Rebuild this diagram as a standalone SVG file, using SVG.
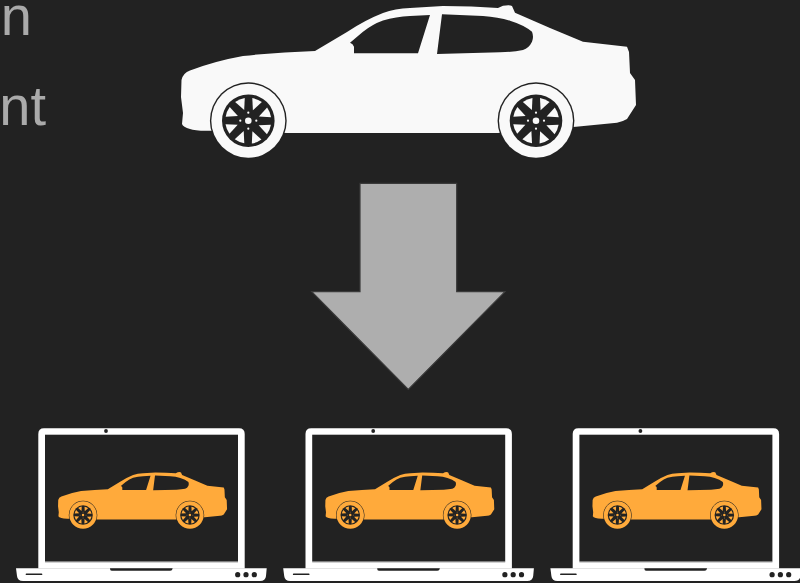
<svg xmlns="http://www.w3.org/2000/svg" xmlns:xlink="http://www.w3.org/1999/xlink" width="800" height="583" viewBox="0 0 800 583">
<style>
.lbl{font-family:"Liberation Sans",Arial,sans-serif;font-size:56px;fill:#aaaaaa}
.dk{fill:#222222}
.lid{fill:#ffffff}
</style>
<defs>
<path id="w" d="M4.6 -10.4 L4 -22.6 A23 23 0 0 1 13.6 -18.6 Z"/>
<g id="wheel">
<circle r="38.4" fill="#222222"/>
<circle r="37" fill="currentColor"/>
<circle r="26.3" fill="#222222"/>
<g fill="currentColor">
<use xlink:href="#w" href="#w"/>
<use xlink:href="#w" href="#w" transform="rotate(45)"/>
<use xlink:href="#w" href="#w" transform="rotate(90)"/>
<use xlink:href="#w" href="#w" transform="rotate(135)"/>
<use xlink:href="#w" href="#w" transform="rotate(180)"/>
<use xlink:href="#w" href="#w" transform="rotate(225)"/>
<use xlink:href="#w" href="#w" transform="rotate(270)"/>
<use xlink:href="#w" href="#w" transform="rotate(315)"/>
<circle r="3.3"/>
<circle cx="0" cy="-8" r="1.1"/><circle cx="8" cy="0" r="1.1"/><circle cx="0" cy="8" r="1.1"/><circle cx="-8" cy="0" r="1.1"/>
</g>
</g>
<g id="car">
<path fill="currentColor" d="M181.5 80 Q183 73 190 70.5 Q215 61 243 56 Q280 52 315 51 L347 32 Q365 20 383 13 Q395 8.5 410 8 L443 6 Q472 6 498 8 L503 5.7 Q510 4.5 512 6 L515 12.7 L550 28 L583 41.7 L627 46.7 L629 52 L630 73 L635 80 L636 105 L627 119 Q622 122 617 122.7 L576 126.7 L498 133 L287 133 L210 130.7 Q195 131 190 129 Q183 127 182 124 L183 113 L181 97 Z"/>
<path class="dk" d="M354 53.3 L354 46.7 Q353 43.5 350 42.7 L363 31.7 Q373 24 383 20.5 Q396 16.5 410 16 L430 15 L418 53.3 Z"/>
<path class="dk" d="M442 14.3 L483 16 Q498 17 510 20.7 Q524 25 532 31.7 Q534 37 532 41.7 Q529 48 523 50 Q513 52 500 52.3 L437 54 Z"/>
<use xlink:href="#wheel" href="#wheel" x="248.3" y="120.7"/>
<use xlink:href="#wheel" href="#wheel" x="536" y="120.7"/>
</g>
<g id="laptop">
<path class="lid" d="M38.3 568.5 L38.3 434 Q38.3 428.3 44 428.3 L239 428.3 Q244.7 428.3 244.7 434 L244.7 568.5 Z"/>
<rect class="dk" x="45" y="434.7" width="193" height="126.6"/>
<rect x="45" y="561.3" width="193" height="1" fill="#666666"/>
<path class="lid" d="M16 568.3 L266.7 568.3 L266 576 Q265.5 581 260 581 L23 581 Q17.5 581 17 576 Z"/>
<path class="dk" d="M110 568.3 L172.7 568.3 L172 570 Q171.5 570.8 170 570.8 L112 570.8 Q110.5 570.8 110.3 570 Z"/>
<rect class="dk" x="25.7" y="573.6" width="16.6" height="1.5" rx=".7"/>
<circle class="dk" cx="106" cy="431" r="1.9"/>
<circle class="dk" cx="237.7" cy="574.7" r="2.6"/>
<circle class="dk" cx="246" cy="574.7" r="2.6"/>
<circle class="dk" cx="254.3" cy="574.7" r="2.6"/>
</g>
</defs>
<rect width="800" height="583" fill="#222222"/>
<g id="labels">
<text class="lbl" x="32" y="35" text-anchor="end">on</text>
<text class="lbl" x="46" y="125" text-anchor="end">nt</text>
</g>
<g id="main-car" color="#f9f9f9"><use xlink:href="#car" href="#car"/></g>
<g id="connectors">
<path d="M360 183.3 L456.7 183.3 L456.7 291.7 L505 291.7 L408.3 389.3 L311.7 291.7 L360 291.7 Z" fill="#aeaeae" stroke="#3a3a3a" stroke-width="1.2"/>
</g>
<g id="laptop-1"><use xlink:href="#laptop" href="#laptop"/><g color="#ffaa3b" transform="translate(-9.2 470.2) scale(.3715)"><use xlink:href="#car" href="#car"/></g></g>
<g id="laptop-2" transform="translate(267.2 0)"><use xlink:href="#laptop" href="#laptop"/><g color="#ffaa3b" transform="translate(-9.2 470.2) scale(.3715)"><use xlink:href="#car" href="#car"/></g></g>
<g id="laptop-3" transform="translate(534.4 0)"><use xlink:href="#laptop" href="#laptop"/><g color="#ffaa3b" transform="translate(-9.2 470.2) scale(.3715)"><use xlink:href="#car" href="#car"/></g></g>
</svg>
